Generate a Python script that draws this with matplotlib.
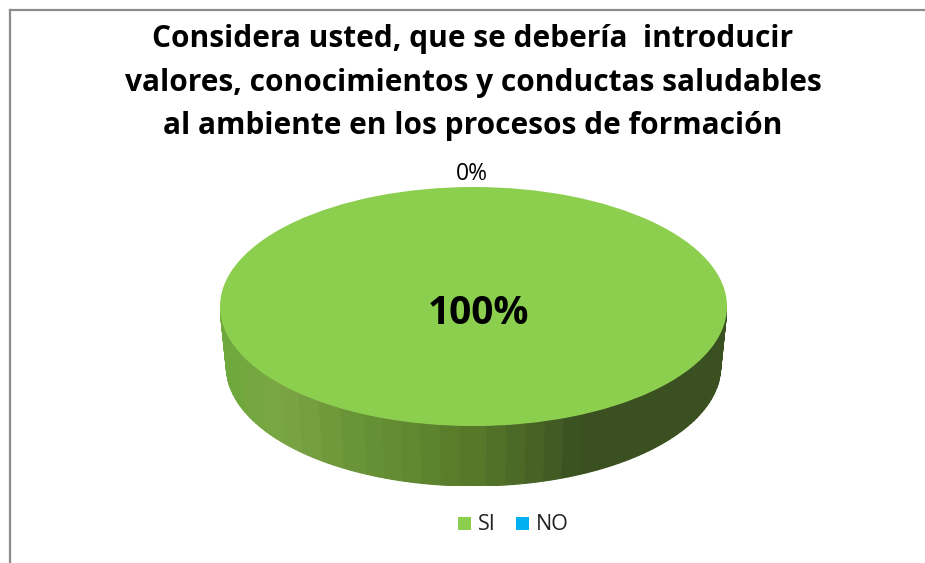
import numpy as np
import matplotlib
matplotlib.use("Agg")
import matplotlib.pyplot as plt
from matplotlib.colors import LinearSegmentedColormap

categories = ["SI", "NO"]
values = [100, 0]
title_lines = ["Considera usted, que se debería  introducir",
               "valores, conocimientos y conductas saludables",
               "al ambiente en los procesos de formación"]
colors = ["#8CCF4F", "#00B0F0"]

W, H = 925, 563
plt.rcParams["font.family"] = ["Open Sans", "DejaVu Sans"]

fig = plt.figure(figsize=(W / 100, H / 100), dpi=100)

# overlay in pixel coordinates, for frame, title and legend
bg = fig.add_axes([0, 0, 1, 1])
bg.set_xlim(0, W)
bg.set_ylim(H, 0)
bg.axis("off")
bg.plot([9.5, 9.5], [H, 10], color="#8c8c8c", lw=1.6)
bg.plot([9.5, W], [10, 10], color="#8c8c8c", lw=1.6)

for y, line in zip([39, 83, 126], title_lines):
    bg.text(473, y, line, ha="center", va="center", fontsize=21.5, fontweight="bold", color="black")

# pie: ellipse 220..727 x 187..426, side wall down to 486
left, right, top, bottom = 220, 727, 187, 486
ry = (426 - 187) / 2
depth = (bottom - 426) / ry
taper = 0.975
ax = fig.add_axes([left / W, 1 - bottom / H, (right - left) / W, (bottom - top) / H])

# side wall first, so the top covers it; colour goes in bands along x
shade = LinearSegmentedColormap.from_list("side", [(0, "#6FA83C"), (0.1, "#7BA544"), (0.24, "#6A9438"),
                                                   (0.36, "#5F8830"), (0.5, "#557528"), (0.63, "#445C25"),
                                                   (0.69, "#3A5020"), (1, "#3A5020")])
theta = np.linspace(np.pi, 2 * np.pi, 121)
for a, b in zip(theta[:-1], theta[1:]):
    t = np.linspace(a, b, 4)
    xs = np.r_[np.cos(t), taper * np.cos(t[::-1])]
    ys = np.r_[np.sin(t), np.sin(t[::-1]) - depth]
    band = np.floor((np.cos(a) + np.cos(b)) / 2 * 12.5 + 12.5) / 25
    ax.fill(xs, ys, color=shade(band), lw=0.8)

ax.pie(values, colors=colors, radius=1, center=(0, 0), startangle=90, counterclock=False, frame=True)
ax.set_aspect("auto")
ax.set_xlim(-1, 1)
ax.set_ylim(-1 - depth, 1)
ax.axis("off")

bg.set_zorder(2)
bg.text(478, 313, "%d%%" % values[0], ha="center", va="center", fontsize=28, fontweight="bold", color="black")
bg.text(472, 174, "%d%%" % values[1], ha="center", va="center", fontsize=16.5, color="black")

# legend
for x, name, c in zip([458, 516], categories, colors):
    bg.add_patch(plt.Rectangle((x, 517), 13, 13, color=c, lw=0))
    bg.text(x + 20, 525, name, ha="left", va="center", fontsize=15.5, color="#222222")

fig.savefig("out.png", dpi=100)
